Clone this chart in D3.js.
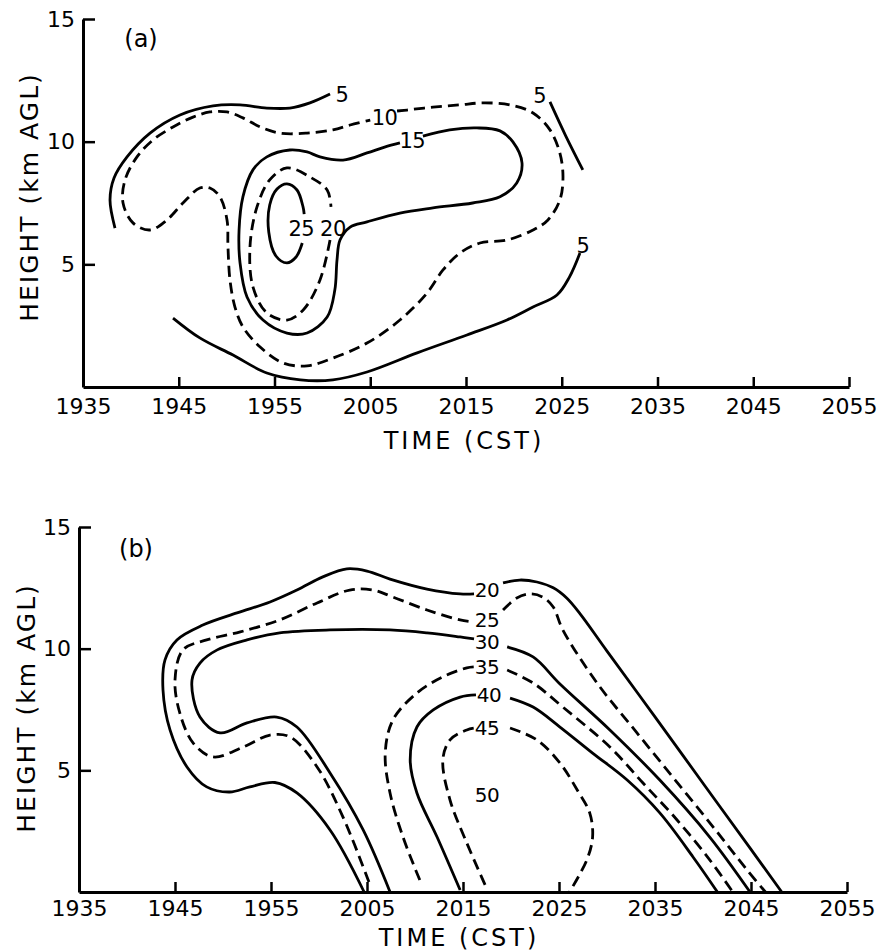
<!DOCTYPE html>
<html>
<head>
<meta charset="utf-8">
<script src="https://cdn.jsdelivr.net/npm/d3@7/dist/d3.min.js"></script>
<style>
  body { margin: 0; background: #fff; }
  svg { display: block; }
  text { font-family: "DejaVu Sans", sans-serif; fill: #000; }
</style>
</head>
<body>
<svg id="chart"></svg>
<script>
// time = minutes after 1935 CST, height = km AGL
let timeTicks = [0, 10, 20, 30, 40, 50, 60, 70, 80]
let timeLabels = ["1935", "1945", "1955", "2005", "2015", "2025", "2035", "2045", "2055"]
let heightTicks = [5, 10, 15]

// ---- panel (a) contours ----
let a5Top = [[3.34, 6.48], [2.82, 7.62], [3.24, 8.52], [4.6, 9.38], [7.0, 10.35], [10.13, 11.09], [13.58, 11.46],
    [16.4, 11.5], [19.2, 11.37], [21.6, 11.37], [23.7, 11.58], [25.8, 11.94]]
let a5Right = [[48.77, 11.62], [50.4, 10.25], [52.2, 8.85]]
let a5Bottom = [[9.4, 2.81], [12.2, 2.0], [15.67, 1.3], [19.2, 0.57], [22.7, 0.29], [26.1, 0.29], [29.66, 0.61],
    [34.9, 1.39], [40.1, 2.12], [44.28, 2.73], [47.0, 3.26], [49.5, 3.75], [50.8, 4.48], [51.9, 5.46]]
let a10 = [[32.8, 11.25], [33.84, 11.29], [36.55, 11.41], [39.37, 11.5], [41.78, 11.58], [44.6, 11.5], [47.0, 11.17],
    [48.77, 10.48], [49.8, 9.54], [50.13, 8.56], [49.8, 7.62], [48.56, 6.81], [47.0, 6.4], [44.28, 5.99],
    [41.46, 5.87], [39.37, 5.46], [37.6, 4.77], [35.93, 3.83], [33.1, 2.73], [29.66, 1.79], [26.1, 1.18],
    [23.4, 0.86], [20.9, 0.98], [18.5, 1.63], [16.7, 2.45], [15.87, 3.26], [15.35, 4.36], [15.14, 5.71],
    [15.04, 6.81], [14.3, 7.75], [13.26, 8.11], [12.2, 8.11], [10.44, 7.5], [8.77, 6.81], [7.0, 6.4],
    [5.22, 6.69], [4.18, 7.5], [4.39, 8.44], [5.64, 9.38], [7.31, 10.07], [9.4, 10.6], [11.49, 11.0],
    [13.26, 11.21], [15.04, 11.21], [16.7, 10.97], [18.5, 10.6], [20.57, 10.35], [23.4, 10.35],
    [26.1, 10.48], [27.9, 10.68], [30.0, 10.88]]
let a15 = [[35.5, 10.23], [38.3, 10.48], [41.15, 10.56], [43.55, 10.44], [44.9, 9.99], [45.85, 9.13], [45.3, 8.32],
    [43.55, 7.75], [40.7, 7.5], [36.55, 7.3], [33.1, 7.09], [29.66, 6.73], [27.9, 6.52], [26.84, 5.99],
    [26.53, 5.18], [26.3, 3.95], [25.5, 2.85], [23.4, 2.2], [21.3, 2.2], [18.8, 2.73], [17.13, 3.67],
    [16.4, 5.06], [16.3, 6.4], [16.7, 7.75], [17.75, 8.85], [19.2, 9.38], [21.6, 9.66], [23.4, 9.58],
    [24.75, 9.38], [27.15, 9.25], [29.66, 9.54], [31.5, 9.78], [33.1, 9.95]]
let a20 = [[25.8, 5.99], [24.75, 4.36], [23.0, 3.14], [21.3, 2.73], [19.2, 3.02], [17.75, 4.08], [17.44, 5.71],
    [18.17, 7.34], [19.5, 8.44], [21.3, 8.93], [23.7, 8.56], [25.5, 8.03], [25.9, 7.34]]
let a25 = [[22.9, 5.87], [22.25, 5.3], [21.3, 5.06], [20.15, 5.34], [19.4, 6.32], [19.5, 7.42], [20.26, 8.07],
    [21.3, 8.28], [22.35, 8.03], [22.98, 7.34], [23.1, 7.05]]
let aLabels = [["5", 27.05, 11.94], ["10", 31.5, 11.0], ["15", 34.4, 10.07], ["20", 26.1, 6.48],
    ["25", 22.8, 6.48], ["5", 47.7, 11.9], ["5", 52.2, 5.79]]

// ---- panel (b) contours ----
let b20Left = [[29.7, 0], [26.15, 2.55], [22.7, 4.07], [20.4, 4.5], [17.8, 4.32], [15.7, 4.11], [13.3, 4.32],
    [11.25, 5.14], [9.48, 6.66], [8.75, 8.3], [8.96, 9.54], [10.2, 10.36], [12.9, 10.97], [16.46, 11.47],
    [19.9, 11.92], [22.7, 12.41], [25.4, 12.95], [27.9, 13.28], [30.0, 13.19], [32.4, 12.86], [36.25, 12.45],
    [39.7, 12.25], [41.15, 12.25]]
let b20Right = [[44.17, 12.7], [45.9, 12.82], [47.7, 12.74], [49.4, 12.5], [50.8, 12.08], [52.2, 11.43],
    [55.0, 9.9], [60.0, 7.2], [65.0, 4.47], [70.0, 1.75], [73.2, 0]]
let b25Left = [[30.2, 0.41], [27.5, 3.08], [24.8, 5.14], [22.0, 6.37], [19.9, 6.45], [17.1, 5.96], [13.96, 5.55],
    [11.9, 6.12], [10.5, 7.36], [10.0, 8.71], [10.83, 9.95], [13.3, 10.36], [16.8, 10.69], [20.9, 11.18],
    [24.8, 11.88], [28.2, 12.41], [30.6, 12.41], [32.7, 12.12], [36.25, 11.59], [39.7, 11.18], [41.15, 11.1]]
let b25Right = [[44.17, 11.59], [45.6, 12.08], [47.0, 12.25], [48.3, 12.12], [49.4, 11.71], [50.4, 10.77],
    [53.96, 8.59], [58.0, 6.6], [62.0, 4.65], [66.0, 2.7], [69.5, 0.95], [71.5, 0]]
let b30Left = [[32.4, 0], [29.6, 2.55], [26.15, 4.89], [22.7, 6.78], [20.6, 7.19], [17.5, 6.95], [14.7, 6.54],
    [12.6, 7.19], [11.77, 8.71], [12.6, 9.41], [14.4, 9.95], [17.5, 10.36], [20.9, 10.65], [26.15, 10.77],
    [32.4, 10.77], [36.25, 10.65], [39.7, 10.48], [41.15, 10.4]]
let b30Right = [[44.6, 10.07], [47.3, 9.66], [50.1, 8.55], [55.3, 6.66], [60.5, 4.6], [65.7, 2.26], [69.9, 0]]
let b35Left = [[35.5, 0.49], [33.75, 2.26], [32.4, 4.07], [31.9, 5.71], [32.7, 7.07], [35.2, 8.18], [37.9, 8.84],
    [40.4, 9.21], [41.15, 9.25]]
let b35Right = [[44.6, 9.12], [47.3, 8.59], [50.4, 7.6], [55.3, 5.96], [58.75, 4.48], [62.3, 2.96], [65.7, 1.32],
    [68.1, 0]]
let b40Left = [[39.7, 0.08], [37.3, 2.26], [35.2, 4.07], [34.5, 5.43], [35.2, 6.78], [36.9, 7.48], [39.7, 8.01],
    [41.35, 8.1]]
let b40Right = [[44.9, 7.97], [47.3, 7.6], [50.1, 6.78], [53.5, 5.71], [57.1, 4.6], [60.5, 3.25], [63.96, 1.44],
    [66.5, 0]]
let b45Left = [[42.3, 0.29], [40.4, 2.01], [38.65, 3.78], [37.9, 5.43], [38.65, 6.25], [40.4, 6.66], [41.25, 6.74]]
let b45Right = [[44.9, 6.74], [47.7, 6.25], [50.1, 5.3], [51.9, 4.19], [53.2, 3.25], [53.5, 2.26], [52.9, 1.32],
    [51.1, 0]]
let bLabels = [["20", 42.5, 12.41], ["25", 42.5, 11.18], ["30", 42.5, 10.28], ["35", 42.5, 9.25],
    ["40", 42.7, 8.1], ["45", 42.5, 6.74], ["50", 42.5, 3.99]]

let width = 879, height = 952

let svg = d3.select("#chart")
    .attr("width", width)
    .attr("height", height)

function add_panel(opts) {
    let x = d3.scaleLinear().domain([0, 80]).range([opts.left, opts.right])
    let y = d3.scaleLinear().domain([0, 15]).range([opts.bottom, opts.top])
    let g = svg.append("g")

    let line = d3.line()
        .curve(d3.curveCatmullRom.alpha(0.5))
        .x(function (d) { return x(d[0]) })
        .y(function (d) { return y(d[1]) })

    opts.solid.forEach(function (pts) {
        g.append("path")
            .datum(pts)
            .attr("d", line)
            .attr("fill", "none")
            .attr("stroke", "#000")
            .attr("stroke-width", 2.8)
    })
    opts.dashed.forEach(function (pts) {
        g.append("path")
            .datum(pts)
            .attr("d", line)
            .attr("fill", "none")
            .attr("stroke", "#000")
            .attr("stroke-width", 2.8)
            .attr("stroke-dasharray", "11,6")
    })

    g.selectAll(".clabel")
        .data(opts.labels)
        .enter().append("text")
        .attr("class", "clabel")
        .attr("x", function (d) { return x(d[1]) })
        .attr("y", function (d) { return y(d[2]) })
        .attr("dy", "0.36em")
        .attr("text-anchor", "middle")
        .style("font-size", opts.labelSize + "px")
        .style("letter-spacing", "-0.5px")
        .text(function (d) { return d[0] })

    // axes
    let xAxis = d3.axisBottom(x)
        .tickValues(timeTicks)
        .tickFormat(function (d, i) { return timeLabels[i] })
        .tickSizeInner(-10)
        .tickSizeOuter(0)
        .tickPadding(opts.tickPad)
    let yAxis = d3.axisLeft(y)
        .tickValues(heightTicks)
        .tickSizeInner(-12)
        .tickSizeOuter(0)
        .tickPadding(8)

    let gx = g.append("g")
        .attr("transform", "translate(0," + opts.bottom + ")")
        .call(xAxis)
    let gy = g.append("g")
        .attr("transform", "translate(" + opts.left + ",0)")
        .call(yAxis)

    ;[gx, gy].forEach(function (ax) {
        ax.select(".domain").attr("stroke", "#000").attr("stroke-width", 3)
        ax.selectAll(".tick line").attr("stroke", "#000").attr("stroke-width", 2.5)
        ax.selectAll(".tick text")
            .style("font-family", "'DejaVu Sans', sans-serif")
            .style("font-size", "22px")
            .attr("fill", "#000")
    })
    gx.selectAll(".tick").filter(function (d) { return d === 0 }).select("line").remove()

    g.append("text")
        .attr("x", opts.timeX)
        .attr("y", opts.timeY)
        .attr("text-anchor", "middle")
        .style("font-size", "24px")
        .style("letter-spacing", "3px")
        .text("TIME (CST)")

    g.append("text")
        .attr("transform", "translate(" + opts.hX + "," + opts.hY + ") rotate(-90)")
        .attr("text-anchor", "middle")
        .style("font-size", "25px")
        .style("letter-spacing", "2px")
        .text("HEIGHT (km AGL)")

    g.append("text")
        .attr("x", opts.tagX)
        .attr("y", opts.tagY)
        .attr("dy", "0.36em")
        .attr("text-anchor", "middle")
        .style("font-size", "24px")
        .text(opts.tag)
}

add_panel({
    left: 83, right: 849, top: 19, bottom: 387,
    solid: [a5Top, a5Right, a5Bottom, a15, a25],
    dashed: [a10, a20],
    labels: aLabels, labelSize: 21, tickPad: 11,
    timeX: 464, timeY: 449, hX: 38, hY: 197,
    tag: "(a)", tagX: 141, tagY: 38
})

add_panel({
    left: 79, right: 847, top: 527, bottom: 892,
    solid: [b20Left, b20Right, b30Left, b30Right, b40Left, b40Right],
    dashed: [b25Left, b25Right, b35Left, b35Right, b45Left, b45Right],
    labels: bLabels, labelSize: 20, tickPad: 8,
    timeX: 459, timeY: 946, hX: 35, hY: 708,
    tag: "(b)", tagX: 136, tagY: 548
})
</script>
</body>
</html>
